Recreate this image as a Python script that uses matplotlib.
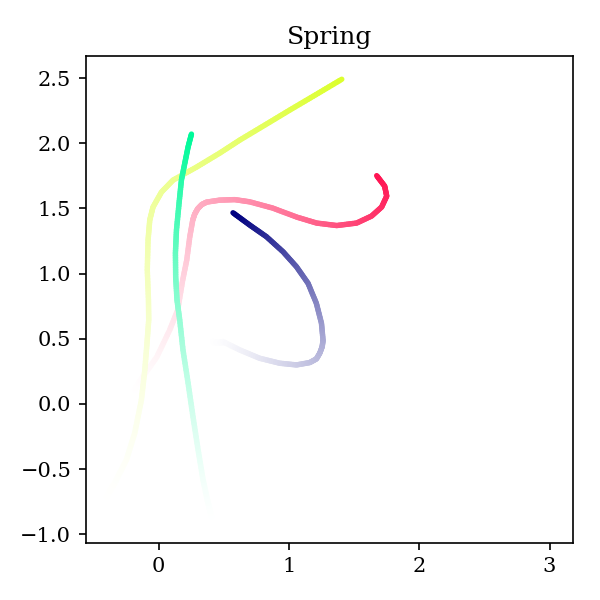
import numpy as np
import matplotlib.pyplot as plt
from matplotlib.collections import LineCollection
from matplotlib.colors import to_rgb

plt.rcParams['font.family'] = 'serif'

# trajectories, tail -> head
navy_x = [0.391, 0.417, 0.493, 0.622, 0.775, 0.929, 1.057, 1.159, 1.210, 1.236, 1.255, 1.261, 1.249, 1.210, 1.146, 1.057, 0.954, 0.827, 0.698, 0.570]
navy_y = [0.465, 0.478, 0.478, 0.414, 0.350, 0.312, 0.299, 0.317, 0.345, 0.389, 0.440, 0.491, 0.619, 0.772, 0.926, 1.053, 1.168, 1.283, 1.373, 1.467]

pink_x = [-0.200, -0.123, -0.015, 0.084, 0.146, 0.184, 0.215, 0.238, 0.261, 0.276, 0.299, 0.330, 0.368, 0.468, 0.583, 0.698, 0.875, 1.059, 1.212, 1.366, 1.519, 1.634, 1.711, 1.750, 1.734, 1.673]
pink_y = [0.084, 0.207, 0.360, 0.567, 0.721, 0.951, 1.104, 1.281, 1.411, 1.457, 1.498, 1.530, 1.549, 1.564, 1.568, 1.551, 1.503, 1.434, 1.388, 1.369, 1.388, 1.442, 1.511, 1.595, 1.672, 1.752]

green_x = [0.412, 0.378, 0.340, 0.302, 0.263, 0.225, 0.186, 0.161, 0.140, 0.130, 0.128, 0.136, 0.156, 0.174, 0.200, 0.225, 0.251]
green_y = [-0.890, -0.759, -0.583, -0.353, -0.100, 0.161, 0.414, 0.644, 0.798, 0.974, 1.158, 1.334, 1.541, 1.718, 1.848, 1.971, 2.071]

yellow_x = [-0.427, -0.338, -0.248, -0.184, -0.133, -0.107, -0.090, -0.077, -0.079, -0.088, -0.082, -0.069, -0.044, 0.021, 0.110, 0.289, 0.468, 0.622, 0.814, 1.005, 1.205, 1.405]
yellow_y = [-0.759, -0.606, -0.429, -0.222, 0.031, 0.261, 0.468, 0.644, 0.798, 1.028, 1.258, 1.411, 1.511, 1.626, 1.718, 1.817, 1.925, 2.025, 2.140, 2.255, 2.373, 2.492]

series = [
    (navy_x, navy_y, '#000080'),
    (pink_x, pink_y, '#ff1553'),
    (yellow_x, yellow_y, '#dcff2e'),
    (green_x, green_y, '#00fa9a'),
]

fig, ax = plt.subplots(figsize=(4, 4), dpi=150)
for xs, ys, col in series:
    pts = np.column_stack([xs, ys])
    # split each piece finely so the fade is smooth
    segs = []
    for a, b in zip(pts[:-1], pts[1:]):
        for k in range(10):
            segs.append([a + (b - a) * k / 10, a + (b - a) * (k + 1) / 10])
    segs = np.array(segs)
    seglen = np.hypot(*(segs[:, 1] - segs[:, 0]).T)
    frac = (np.cumsum(seglen) / seglen.sum()) ** 1.4
    rgb = np.array(to_rgb(col))
    # fade towards the white background (opaque, so no seams)
    colors = [tuple(1 - f * (1 - rgb)) for f in frac]
    lc = LineCollection(segs, colors=colors, linewidths=2.6, capstyle='round')
    ax.add_collection(lc)

ax.set_xlim(-0.56, 3.18)
ax.set_ylim(-1.066, 2.67)
ax.set_aspect('equal')
ax.set_xticks([0, 1, 2, 3])
ax.set_title('Spring')
fig.subplots_adjust(left=0.143, right=0.955, bottom=0.095, top=0.907)
fig.savefig('out.png')
